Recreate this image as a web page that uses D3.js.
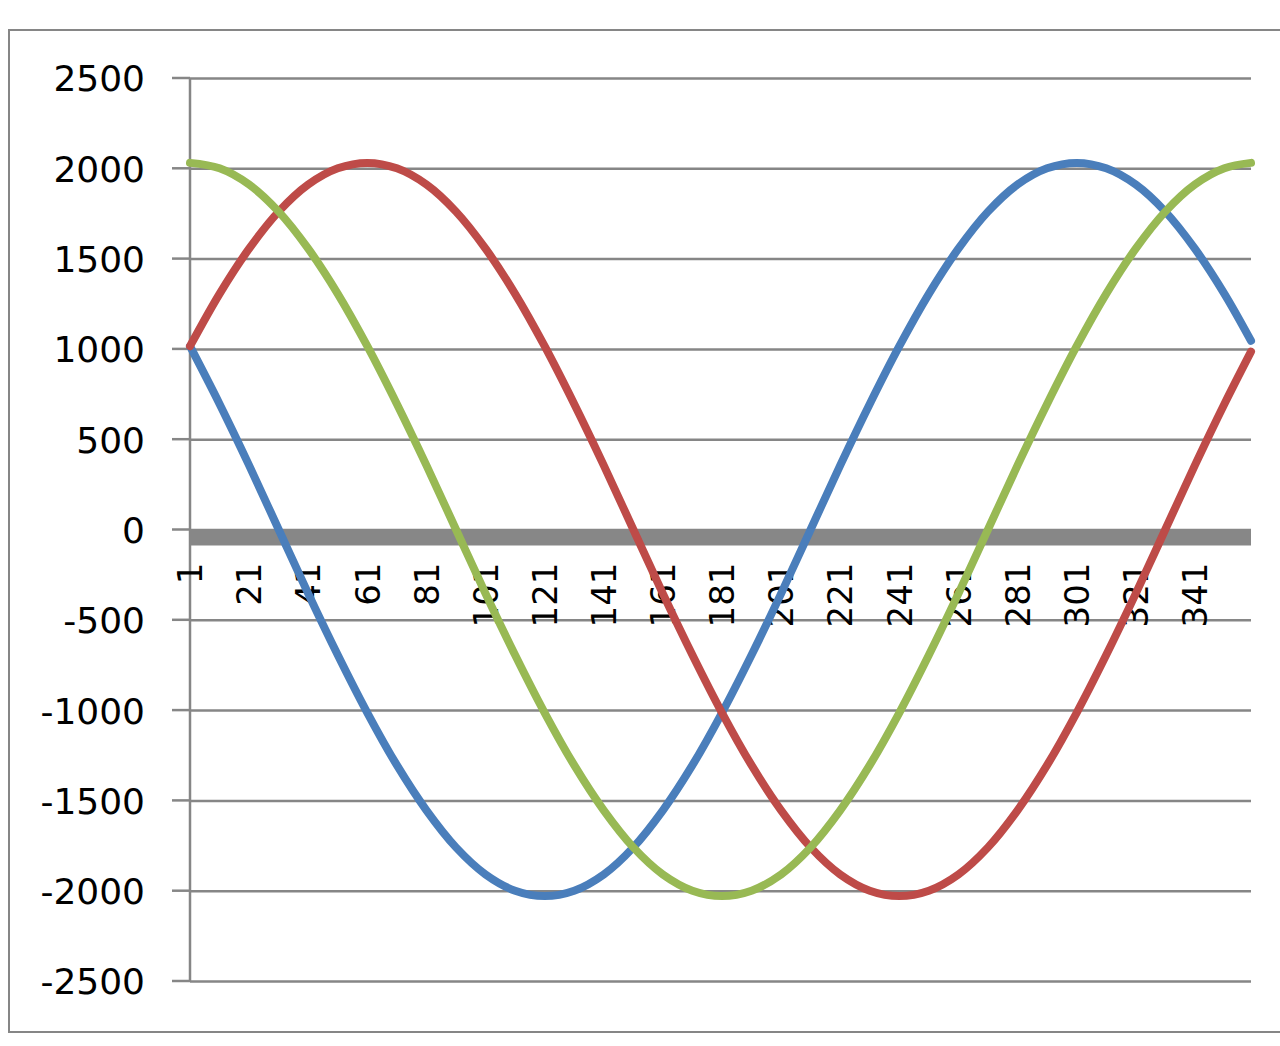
<!DOCTYPE html>
<html>
<head>
<meta charset="utf-8">
<script src="https://cdn.jsdelivr.net/npm/d3@7"></script>
<style>
  body { margin: 0; background: #fff; }
  svg text { font-family: "DejaVu Sans", Verdana, sans-serif; fill: #000; }
</style>
</head>
<body>
<div id="chart"></div>
<script>
var categories = [1, 11, 21, 31, 41, 51, 61, 71, 81, 91, 101, 111, 121, 131, 141, 151, 161, 171, 181,
                  191, 201, 211, 221, 231, 241, 251, 261, 271, 281, 291, 301, 311, 321, 331, 341, 351, 360];

var blueSeries = [1015, 695, 355, 0, -355, -695, -1015, -1305, -1555, -1760, -1910, -2000, -2030, -2000, -1910, -1760, -1555, -1305, -1015,
                  -695, -355, 0, 355, 695, 1015, 1305, 1555, 1760, 1910, 2000, 2030, 2000, 1910, 1760, 1555, 1305, 1045];
var redSeries = [1015, 1305, 1555, 1760, 1910, 2000, 2030, 2000, 1910, 1760, 1555, 1305, 1015, 695, 355, 0, -355, -695, -1015,
                 -1305, -1555, -1760, -1910, -2000, -2030, -2000, -1910, -1760, -1555, -1305, -1015, -695, -355, 0, 355, 695, 985];
var greenSeries = [2030, 2000, 1910, 1760, 1555, 1305, 1015, 695, 355, 0, -355, -695, -1015, -1305, -1555, -1760, -1910, -2000, -2030,
                   -2000, -1910, -1760, -1555, -1305, -1015, -695, -355, 0, 355, 695, 1015, 1305, 1555, 1760, 1910, 2000, 2030];

var xTickLabels = [1, 21, 41, 61, 81, 101, 121, 141, 161, 181, 201, 221, 241, 261, 281, 301, 321, 341];
var yTicks = [2500, 2000, 1500, 1000, 500, 0, -500, -1000, -1500, -2000, -2500];

var seriesList = [
  { name: "Series1", values: blueSeries, color: "#4a7ebb" },
  { name: "Series2", values: redSeries, color: "#be4b48" },
  { name: "Series3", values: greenSeries, color: "#98b954" }
];

(function() {
  var W = 1280, H = 1046;
  var plotLeft = 190, plotRight = 1251, plotTop = 78, plotBottom = 981;
  var gridColor = "#868686";

  var svg = d3.select("#chart").append("svg")
      .attr("width", W).attr("height", H);

  // outer chart frame
  svg.append("rect")
      .attr("x", 9).attr("y", 30)
      .attr("width", 1300).attr("height", 1002)
      .attr("fill", "#fff").attr("stroke", gridColor).attr("stroke-width", 2);

  var x = d3.scaleLinear().domain([1, 360]).range([plotLeft, plotRight]);
  var y = d3.scaleLinear().domain([-2500, 2500]).range([plotBottom, plotTop]);

  // horizontal gridlines + value labels (plain hyphen minus, like Excel)
  var yAxis = d3.axisLeft(y).tickValues(yTicks)
      .tickSize(-(plotRight - plotLeft)).tickPadding(45)
      .tickFormat(function(d) { return String(d); });
  var gy = svg.append("g")
      .attr("transform", "translate(" + plotLeft + ",0)")
      .attr("font-family", "DejaVu Sans")
      .call(yAxis);
  gy.select(".domain").remove();
  gy.selectAll(".tick line").attr("stroke", gridColor).attr("stroke-width", 2.5);
  gy.selectAll(".tick text").attr("font-size", 36).attr("dy", "0.36em").attr("fill", "#000");

  // small tick stubs left of the axis
  svg.append("g").selectAll("line").data(yTicks).enter().append("line")
      .attr("x1", 172).attr("x2", plotLeft)
      .attr("y1", function(d) { return y(d); }).attr("y2", function(d) { return y(d); })
      .attr("stroke", gridColor).attr("stroke-width", 2.5);

  // vertical axis line
  svg.append("line")
      .attr("x1", plotLeft).attr("x2", plotLeft).attr("y1", plotTop).attr("y2", plotBottom)
      .attr("stroke", gridColor).attr("stroke-width", 2.5);

  // thick category axis at zero
  svg.append("rect")
      .attr("x", plotLeft).attr("y", y(0))
      .attr("width", plotRight - plotLeft).attr("height", 16)
      .attr("fill", "#878787");

  // category labels (rotated)
  svg.append("g").selectAll("text").data(xTickLabels).enter().append("text")
      .attr("transform", function(d) { return "translate(" + x(d) + "," + (y(0) + 33) + ") rotate(-90)"; })
      .attr("text-anchor", "end")
      .attr("dy", "0.36em")
      .attr("font-size", 34)
      .text(function(d) { return d; });

  // series lines
  var line = d3.line()
      .x(function(d, i) { return x(categories[i]); })
      .y(function(d) { return y(d); })
      .curve(d3.curveCatmullRom);

  svg.append("g").selectAll("path").data(seriesList).enter().append("path")
      .attr("d", function(s) { return line(s.values); })
      .attr("fill", "none")
      .attr("stroke", function(s) { return s.color; })
      .attr("stroke-width", 8)
      .attr("stroke-linejoin", "round")
      .attr("stroke-linecap", "round");
})();
</script>
</body>
</html>
